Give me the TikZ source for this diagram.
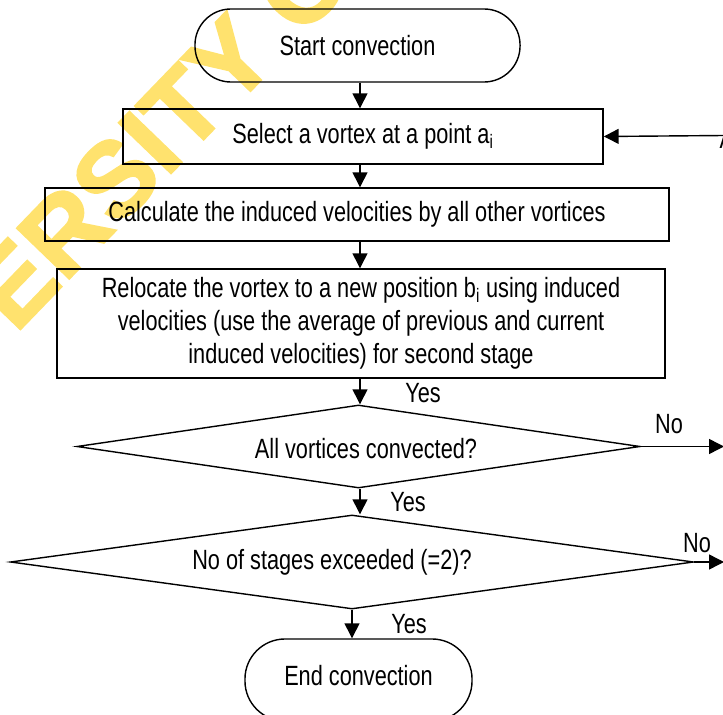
\documentclass[tikz,border=0pt]{standalone}
\usepackage{fontspec}
\setmainfont{Liberation Sans}[FakeStretch=0.78]
\newfontfamily\wmfont{Liberation Sans}[BoldFeatures={FakeBold=2}]
\usetikzlibrary{shapes.geometric}
\usetikzlibrary{arrows.meta}
\definecolor{wmyellow}{RGB}{255,226,110}

\begin{document}
\begin{tikzpicture}[x=0.025cm,y=-0.025cm,line width=1pt,
font=\fontsize{19.8}{23.5}\selectfont,
termblock/.style={draw,rectangle,rounded corners=0.9cm,inner sep=0pt},
procblock/.style={draw,rectangle,inner sep=0pt,align=center},
decblock/.style={draw,diamond,inner sep=0pt},
arr/.style={-{Triangle[length=0.37cm,width=0.37cm]}},
lbl/.style={inner sep=0pt}]

\useasboundingbox (0,0) rectangle (723,715);
\clip (0,0) rectangle (723,715);

\draw (-160,516) node[rotate=46,anchor=base west,inner sep=0pt,text=wmyellow,font=\wmfont\bfseries\fontsize{75}{75}\selectfont] (WM) {UNIVERSITY OF CAPE TOWN};

\coordinate (Axis) at (360,0);

\draw (357.5,45.5) node[termblock,minimum width=8.125cm,minimum height=1.825cm] (Start) {Start convection};
\draw (363,136.5) node[procblock,minimum width=12cm,minimum height=1.375cm] (Sel) {Select a vortex at a point a\textsubscript{i}};
\draw (357,214.5) node[procblock,minimum width=15.6cm,minimum height=1.325cm] (Calc) {Calculate the induced velocities by all other vortices};
\draw (361,323.5) node[procblock,minimum width=15.2cm,minimum height=2.725cm] (Reloc) {Relocate the vortex to a new position b\textsubscript{i} using induced\\velocities (use the average of previous and current\\induced velocities) for second stage};
\draw (358.5,446.5) node[decblock,aspect=6.78,minimum width=14.075cm,minimum height=2.075cm] (D1) {};
\draw (352,562) node[decblock,aspect=7.27,minimum width=17.075cm,minimum height=2.35cm] (D2) {};
\draw (358.5,680) node[termblock,rounded corners=1cm,text depth=7pt,minimum width=5.675cm,minimum height=2.05cm] (End) {End convection};

\draw (366,449) node[lbl] (D1T) {All vortices convected?};
\draw (332,562) node[lbl] (D2T) {No of stages exceeded (=2)?};

\draw[arr] (Start.south -| Axis) -- (Sel.north -| Axis);
\draw[arr] (Sel.south -| Axis) -- (Calc.north -| Axis);
\draw[arr] (Calc.south -| Axis) -- (Reloc.north -| Axis);
\draw[arr] (Reloc.south -| Axis) -- (D1.north -| Axis);
\draw[arr] (D1.south -| Axis) -- (D2.north -| Axis);
\draw[arr] (D2.south) -- (D2.south |- End.north);

\coordinate (Ain) at (724,135.5);
\coordinate (N1) at (724,446.5);
\coordinate (N2) at (724,562);
\draw[arr] (Ain) -- (Sel.east);
\draw[arr] (D1.east) -- (N1);
\draw[arr] (D2.east) -- (N2);

\draw (719,149) node[lbl,anchor=base west] (A) {A};
\draw (423,393) node[lbl] (Y1) {Yes};
\draw (408,502) node[lbl] (Y2) {Yes};
\draw (409,624) node[lbl] (Y3) {Yes};
\draw (669,424) node[lbl] (No1) {No};
\draw (697,543) node[lbl] (No2) {No};

\end{tikzpicture}
\end{document}
